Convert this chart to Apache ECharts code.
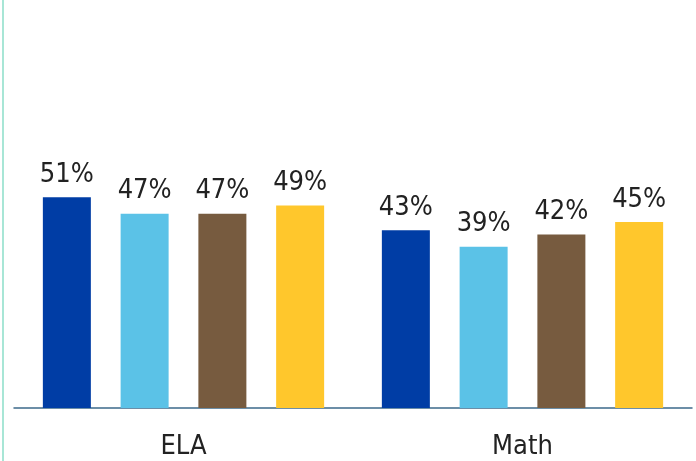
<!DOCTYPE html>
<html>
<head>
<meta charset="utf-8">
<script src="https://cdn.jsdelivr.net/npm/echarts@6/dist/echarts.min.js"></script>
<style>
  html, body { margin: 0; padding: 0; background: #fff; }
  #chart { width: 696px; height: 461px; }
  #edge { position: absolute; left: 2px; top: 0; width: 2px; height: 461px; background: #a8e6d6; }
</style>
</head>
<body>
<div id="edge"></div>
<div id="chart"></div>
<script>
// Subjects on the x axis
const categories = ['ELA', 'Math'];
// Four comparison groups, percent proficient per subject
const seriesA = [51, 43];
const seriesB = [47, 39];
const seriesC = [47, 42];
const seriesD = [49, 45];
const colors = ['#003da5', '#5bc2e7', '#775b3f', '#ffc72c'];

const font = '"DejaVu Sans Condensed", "Liberation Sans Narrow", sans-serif';

function makeSeries(name, data, color) {
  return {
    name: name,
    type: 'bar',
    data: data,
    barWidth: 48,
    barGap: '62%',
    itemStyle: { color: color },
    label: {
      show: true,
      position: 'top',
      distance: 9,
      formatter: '{c}%',
      color: '#222',
      fontFamily: font,
      fontSize: 27
    }
  };
}

const chart = echarts.init(document.getElementById('chart'), null, { renderer: 'canvas' });
chart.setOption({
  animation: false,
  grid: { left: 14, right: 4, top: 160, bottom: 53, containLabel: false },
  xAxis: {
    type: 'category',
    data: categories,
    axisLine: { lineStyle: { color: '#3d6a8a', width: 1.5 } },
    axisTick: { show: false },
    axisLabel: { color: '#222', fontFamily: font, fontSize: 27, margin: 25 }
  },
  yAxis: {
    type: 'value',
    min: 0,
    max: 60,
    show: false,
    splitLine: { show: false }
  },
  series: [
    makeSeries('A', seriesA, colors[0]),
    makeSeries('B', seriesB, colors[1]),
    makeSeries('C', seriesC, colors[2]),
    makeSeries('D', seriesD, colors[3])
  ]
});
</script>
</body>
</html>
